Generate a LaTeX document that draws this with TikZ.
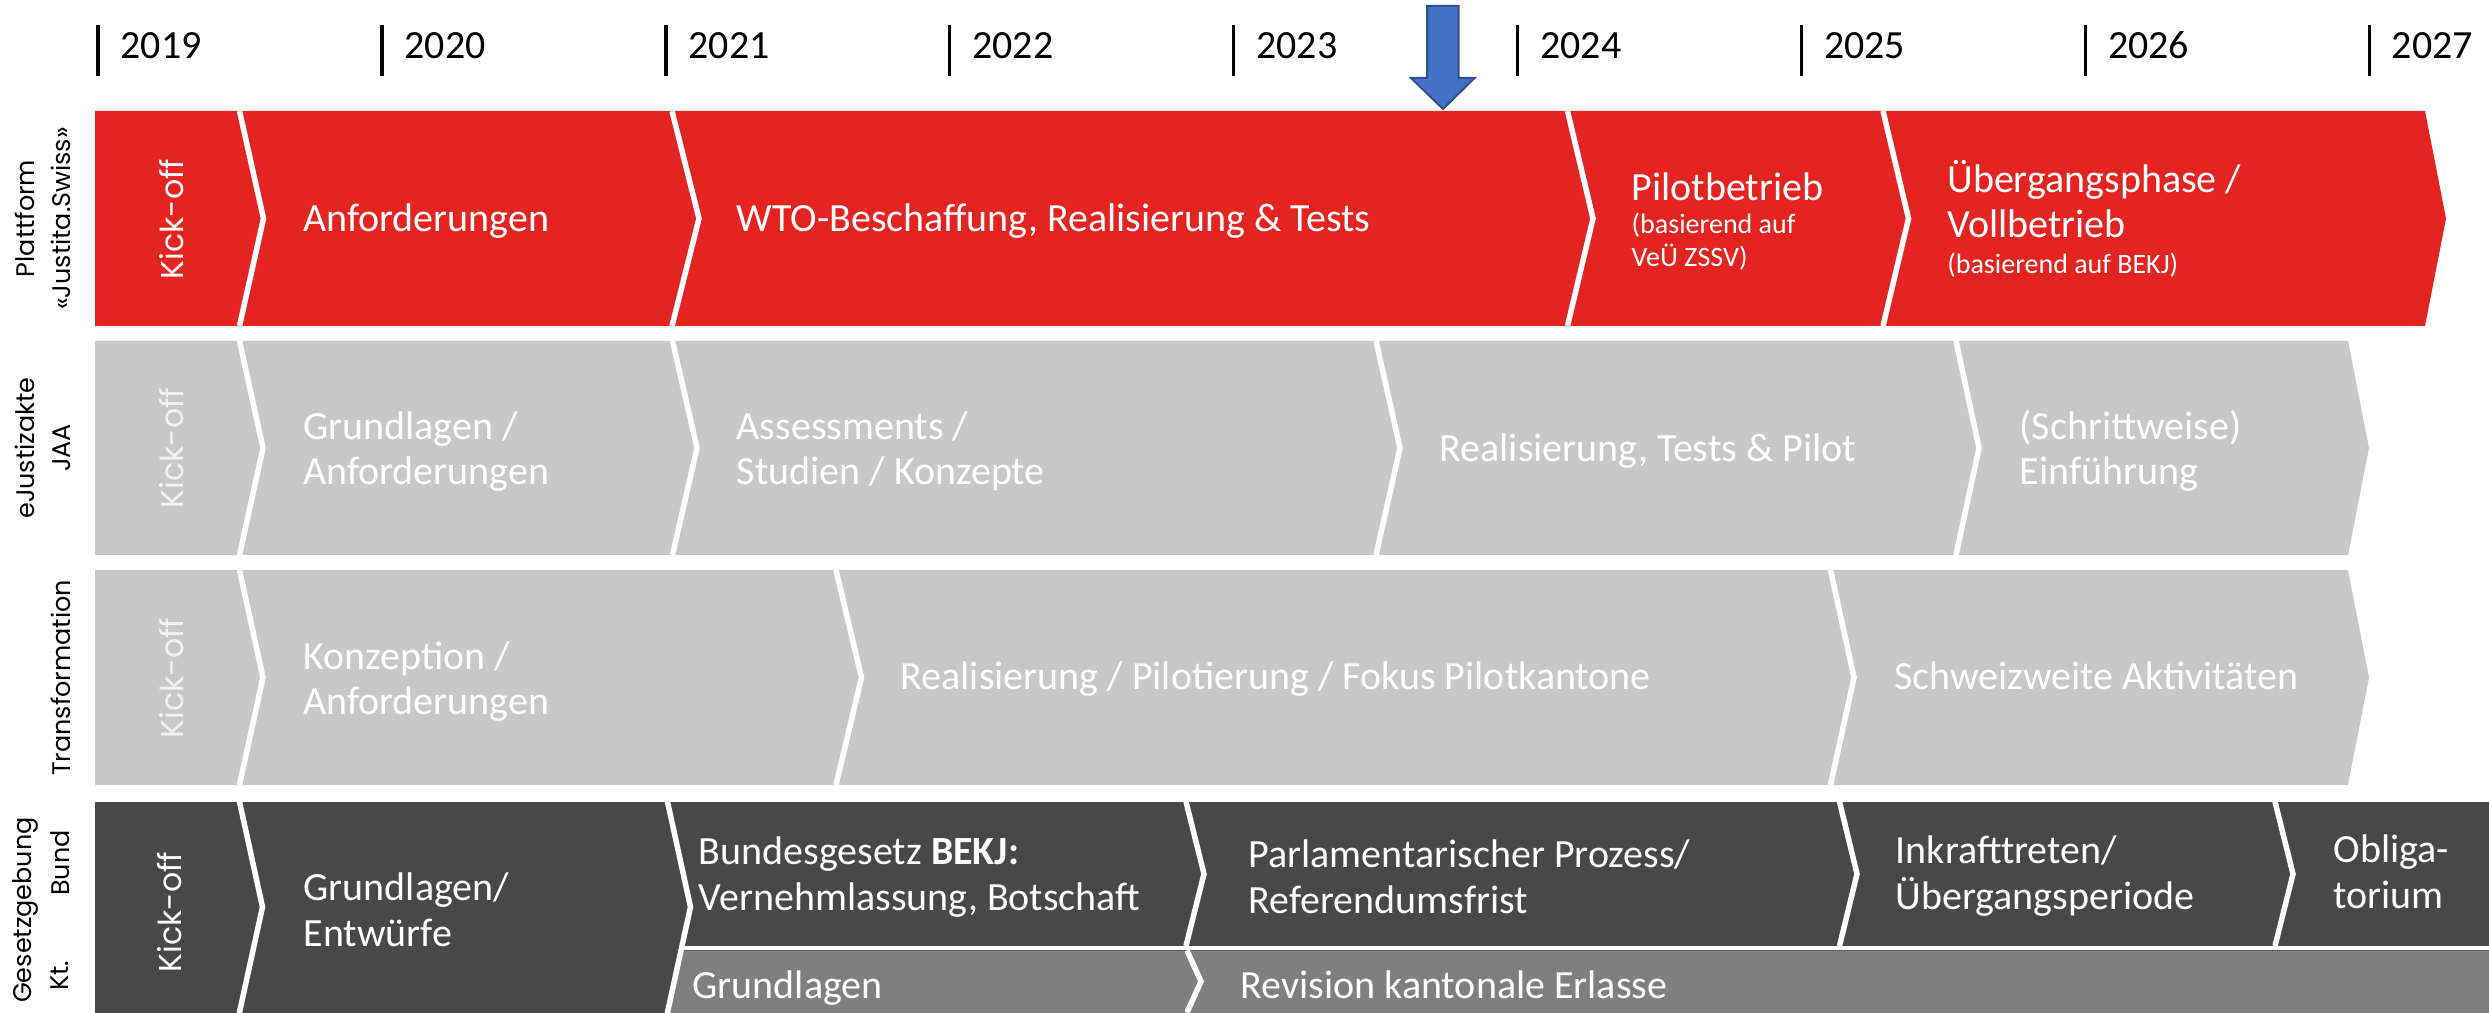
\documentclass[tikz,border=0pt]{standalone}
\usepackage{fontspec}
\setmainfont{Carlito}
\newfontfamily\gothicfont{Poppins}
\usepackage{xcolor}
\usepackage{tikz}
\usetikzlibrary{positioning}
\definecolor{jured}{HTML}{E42421}
\definecolor{julight}{HTML}{C8C8C8}
\definecolor{judark}{HTML}{484848}
\definecolor{jumid}{HTML}{7F7F7F}
\definecolor{jublue}{HTML}{4472C4}
\definecolor{jublueline}{HTML}{2F528F}
\newcommand{\smalltext}{\fontsize{7.97pt}{9.4pt}\selectfont}

\begin{document}
\begin{tikzpicture}[x=0.1mm,y=-0.1mm,
  gap/.style={white,line width=0.55mm},
  phase/.style={text=white,align=left,inner sep=0pt,font=\fontsize{11.38pt}{12.8pt}\selectfont},
  phaseb/.style={phase,font=\fontsize{11.38pt}{13.2pt}\selectfont},
  kick/.style={rotate=90,inner sep=0pt,font=\gothicfont\fontsize{9pt}{10pt}\selectfont},
  rowlabel/.style={rotate=90,inner sep=0pt,align=center,font=\gothicfont\fontsize{7.25pt}{10.4pt}\selectfont},
  year/.style={anchor=base west,inner sep=0pt,font=\fontsize{11.38pt}{13pt}\selectfont}]
\useasboundingbox (0,0) rectangle (2489,1013);
\clip (0,0) rectangle (2489,1013);
% years
\foreach \yr [count=\i from 0] in {2019,...,2027} {
  \draw[line width=0.34mm] (98+283.9*\i,25) -- (98+283.9*\i,76);
  \node[year] (y\yr) at (120+283.9*\i,59) {\yr};
}
\filldraw[fill=jublue,draw=jublueline,line width=0.2mm] (1427,6) -- (1458.5,6) -- (1458.5,78) -- (1474.6,78) -- (1443,109) -- (1411,78) -- (1427,78) -- cycle;
% Plattform
\fill[jured] (95,111) -- (2425,111) -- (2446,218.5) -- (2425,326) -- (95,326) -- cycle;
\foreach \a/\b in {239.5/263.5,672/699,1567.5/1593,1883/1908.5}
  \draw[gap] (\a,111) -- (\b,218.5) -- (\a,326);
% eJustizakte
\fill[julight] (95,341) -- (2348,341) -- (2369,448) -- (2348,555) -- (95,555) -- cycle;
\foreach \a/\b in {239.5/263,672.5/697,1376/1400,1956/1979}
  \draw[gap] (\a,341) -- (\b,448) -- (\a,555);
% Transformation
\fill[julight] (95,570) -- (2348,570) -- (2369,677.5) -- (2348,785) -- (95,785) -- cycle;
\foreach \a/\b in {239.5/263,836/861.5,1830.5/1854}
  \draw[gap] (\a,570) -- (\b,677.5) -- (\a,785);
% Gesetzgebung
\fill[judark] (95,801.7) rectangle (2489,1013);
\fill[jumid] (681,950.5) -- (2489,950.5) -- (2489,1013) -- (667.6,1013) -- cycle;
\draw[gap,line width=0.45mm] (681,948.2) -- (2489,948.2);
\foreach \a/\b in {239.5/262.5,667.5/690.5}
  \draw[gap] (\a,801.7) -- (\b,907) -- (\a,1012.3) -- (\a,1013);
\foreach \a/\b in {1186/1204,1839.5/1857,2275/2293}
  \draw[gap] (\a,801.7) -- (\b,874) -- (\a,946);
\draw[gap] (1187,950.5) -- (1201,981.5) -- (1187,1012.5);

\node[rowlabel] (lab1) at (43,218.5) {Plattform\\«Justita.Swiss»};
\node[rowlabel] (lab2) at (43,448) {eJustizakte\\JAA};
\node[rowlabel] (lab3) at (61,678) {Transformation};
\node[rowlabel] (lab4) at (26,910) {Gesetzgebung};
\node[rowlabel] (bund) at (60,863) {Bund};
\node[rowlabel] (kt) at (60,976) {Kt.};

\node[kick,text=white] (kick1) at (172,219) {Kick-off};
\node[phase,anchor=base west] (anf1) at (302.5,232) {Anforderungen};
\node[phase,anchor=base west] (wto) at (736,232) {WTO-Beschaffung, Realisierung \& Tests};
\node[phase,anchor=west,font=\fontsize{11.38pt}{9.4pt}\selectfont] (pilot) at (1631,222) {Pilotbetrieb\\{\smalltext(basierend auf}\\{\smalltext VeÜ ZSSV)}};
\node[phase,anchor=west] (voll) at (1946.6,219) {Übergangsphase /\\Vollbetrieb\\[-2.56pt]{\smalltext(basierend auf BEKJ)}};

\node[kick,text=white!95!black] (kick2) at (172,448) {Kick-off};
\node[phase,anchor=west] (grund2) at (302.5,451.5) {Grundlagen /\\Anforderungen};
\node[phase,anchor=west] (assess) at (736,451.5) {Assessments /\\Studien / Konzepte};
\node[phase,anchor=base west] (real2) at (1439,462) {Realisierung, Tests \& Pilot};
\node[phase,anchor=west] (einf) at (2019,450.5) {(Schrittweise)\\Einführung};

\node[kick,text=white!95!black] (kick3) at (172,678) {Kick-off};
\node[phase,anchor=west] (konz) at (302.5,681.5) {Konzeption /\\Anforderungen};
\node[phase,anchor=base west] (real3) at (900,690) {Realisierung / Pilotierung / Fokus Pilotkantone};
\node[phase,anchor=base west] (schweiz) at (1893.6,690) {Schweizweite Aktivitäten};

\node[kick,text=white] (kick4) at (170,912) {Kick-off};
\node[phaseb,anchor=west] (entw) at (303,910) {Grundlagen/\\Entwürfe};
\node[phaseb,anchor=west] (bekj) at (698,877) {Bundesgesetz \textbf{BEKJ:}\\Vernehmlassung, Botschaft};
\node[phaseb,anchor=west] (parl) at (1248,877) {Parlamentarischer Prozess/\\Referendumsfrist};
\node[phaseb,anchor=west] (inkraft) at (1895,876) {Inkrafttreten/\\Übergangsperiode};
\node[phaseb,anchor=west] (oblig) at (2333,872) {Obliga-\\torium};
\node[phase,anchor=base west] (grund4) at (692,998) {Grundlagen};
\node[phase,anchor=base west] (revision) at (1240,998) {Revision kantonale Erlasse};
\end{tikzpicture}
\end{document}
